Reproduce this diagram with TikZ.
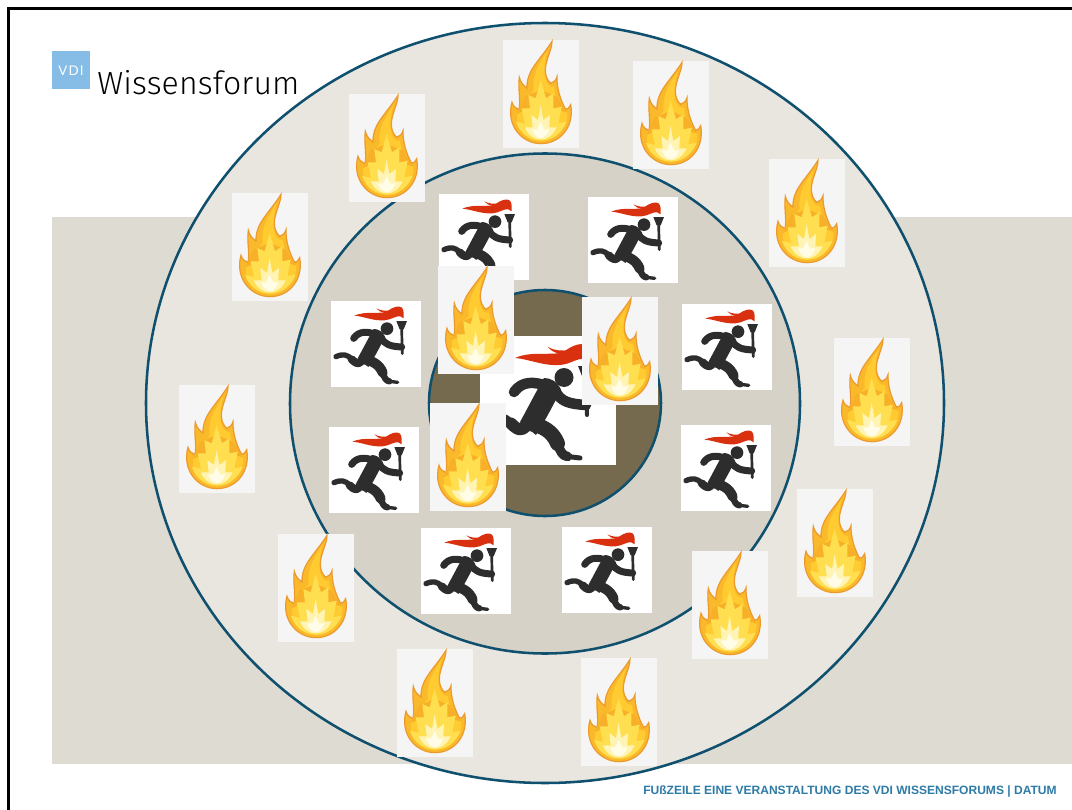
\documentclass[tikz,border=0pt]{standalone}
\usepackage{fontspec}
\setmainfont{Liberation Sans}
\newfontfamily\logofont[LetterSpace=0.5]{Fira Sans Light}
\newfontfamily\vdifont[LetterSpace=8]{Lato}
\definecolor{ringline}{HTML}{10506F}
\definecolor{bandc}{HTML}{DEDBD2}
\definecolor{outerc}{HTML}{E8E6DF}
\definecolor{midc}{HTML}{D6D2C7}
\definecolor{innerc}{HTML}{756A4E}
\definecolor{logoc}{HTML}{85BDE6}
\definecolor{footc}{HTML}{2E7BA6}
\definecolor{figc}{HTML}{2D2D2D}
\definecolor{torchred}{HTML}{D9300F}
\definecolor{flameedge}{HTML}{EC9A2E}
\definecolor{flamea}{HTML}{FAB92A}
\definecolor{flameb}{HTML}{FFCB30}
\definecolor{flamec}{HTML}{FFDE50}
\definecolor{flamed}{HTML}{FFF4B4}
\definecolor{flamee}{HTML}{FFFDE8}
\definecolor{flameo}{HTML}{F7B028}
\tikzset{
  ring/.style={draw=ringline,line width=1.9pt},
  limb/.style={draw=figc,line cap=round,line join=round},
}
\newcommand\flamepath{(147,4) .. controls (147,30) and (127,60) .. (127,91) .. controls (127,108) and (134,122) .. (143,130) .. controls (153,128) and (159,120) .. (162,110) .. controls (161,145) and (173,182) .. (188,208) .. controls (194,208) and (200,203) .. (203,194) .. controls (215,260) and (171,311) .. (114,311) .. controls (56,311) and (8,255) .. (27,187) .. controls (30,198) and (38,206) .. (48,209) .. controls (54,180) and (44,145) .. (49,112) .. controls (52,126) and (62,138) .. (72,144) .. controls (70,90) and (112,60) .. (147,4) -- cycle}
\newcommand\flamebox[2]{%
  \fill[black!4] (#1,#2) rectangle ++(76,108);
  \begin{scope}[shift={(#1,#2)},scale=1/3]
    \fill[flamea,draw=flameedge,line width=0.9pt] \flamepath;
    \fill[flameb] (134,30) .. controls (112,70) and (87,95) .. (92,150) .. controls (82,165) and (72,170) .. (64,170) .. controls (64,195) and (57,215) .. (42,222) .. controls (37,270) and (77,302) .. (114,302) .. controls (156,302) and (196,265) .. (193,218) .. controls (171,205) and (156,175) .. (153,140) .. controls (131,145) and (112,110) .. (134,30) -- cycle;
    \fill[flameo] (64,170) -- (113,150) -- (161,170) -- (193,218) -- (151,205) -- (113,215) -- (76,205) -- (42,222) -- cycle;
    \fill[flamec] (113,120) -- (129,175) -- (151,160) -- (151,205) -- (176,200) -- (166,250) -- (191,245) .. controls (176,282) and (146,302) .. (114,302) .. controls (81,302) and (51,282) .. (39,245) -- (66,252) -- (56,205) -- (81,205) -- (76,165) -- (98,175) -- cycle;
    \fill[flamed] (113,195) -- (121,240) -- (141,225) -- (139,262) -- (161,262) .. controls (149,288) and (131,298) .. (114,298) .. controls (95,298) and (77,288) .. (65,262) -- (89,262) -- (85,225) -- (105,240) -- cycle;
    \fill[flamee] (113,245) -- (123,268) -- (139,268) .. controls (133,286) and (123,294) .. (114,294) .. controls (103,294) and (93,286) .. (87,268) -- (103,268) -- cycle;
  \end{scope}}
\newcommand\runnerfig[5]{% x y w h scale
  \def\rs{#5}%
  \fill[white] (#1,#2) rectangle ++(#3,#4);
  \begin{scope}[shift={(#1,#2)},scale=#5/3]
    \fill[torchred] (70,44) .. controls (105,28) and (150,42) .. (170,30) .. controls (185,18) and (205,12) .. (213,20) .. controls (220,30) and (218,42) .. (218,52) .. controls (205,40) and (195,48) .. (175,55) .. controls (140,66) and (100,46) .. (70,44) -- cycle;
    \fill[torchred] (136,22) .. controls (150,30) and (165,30) .. (180,28) .. controls (170,38) and (148,38) .. (136,22) -- cycle;
    \fill[figc] (168,83) circle (19);
    \fill[figc] (196,60) -- (228,60) -- (218,85) -- (206,85) -- cycle;
    \draw[limb,line width=8*\rs*0.25pt] (212,85) -- (214,158);
    \draw[limb,line width=21*\rs*0.25pt] (135,100) .. controls (110,92) and (85,88) .. (68,112);
    \fill[figc] (128,84) .. controls (140,84) and (155,90) .. (162,108) .. controls (148,135) and (130,170) .. (112,198) -- (80,172) .. controls (95,145) and (110,115) .. (128,84) -- cycle;
    \draw[limb,line width=21*\rs*0.25pt] (150,108) .. controls (160,132) and (180,136) .. (212,138);
    \draw[limb,line width=24*\rs*0.25pt] (92,178) .. controls (85,192) and (75,188) .. (62,175);
    \draw[limb,line width=16*\rs*0.25pt] (62,175) .. controls (50,160) and (35,158) .. (15,167);
    \draw[limb,line width=30*\rs*0.25pt] (100,175) .. controls (125,180) and (145,190) .. (155,215);
    \draw[limb,line width=19*\rs*0.25pt] (155,215) .. controls (160,230) and (165,240) .. (175,241);
    \draw[limb,line width=10*\rs*0.25pt] (175,241) -- (200,244);
  \end{scope}}
\begin{document}
\begin{tikzpicture}[x=0.75pt,y=-0.75pt]
\useasboundingbox (0,0) rectangle (1072,810);
\fill[white] (0,0) rectangle (1072,810);
\fill[bandc] (52,217) rectangle (1072,764);
\draw[ring,fill=outerc] (545,403) ellipse [x radius=399,y radius=380];
\draw[ring,fill=midc] (545,403.5) ellipse [x radius=255,y radius=250];
\draw[ring,fill=innerc] (545,403) ellipse [x radius=116,y radius=113];
\draw[black,line width=2.1pt] (8.7,810) -- (8.7,8.5) -- (1072,8.5);
% logo
\fill[logoc] (52,51) rectangle (90,89);
\node[text=white,font=\vdifont\fontsize{10pt}{12pt}\selectfont,inner sep=0pt] (vdi) at (71,71) {VDI};
\node[anchor=base west,inner sep=0pt,font=\logofont\fontsize{24pt}{26pt}\selectfont] (wf) at (97,94) {Wissensforum};
\node[anchor=base west,inner sep=0pt,text=footc,font=\bfseries\fontsize{9.03pt}{10pt}\selectfont] (foot) at (643,794) {FUßZEILE EINE VERANSTALTUNG DES VDI WISSENSFORUMS | DATUM};
% runners
\runnerfig{480}{336}{136}{129}{1.5}
\runnerfig{439}{194}{90}{86}{1}
\runnerfig{588}{197}{90}{86}{1}
\runnerfig{331}{301}{90}{86}{1}
\runnerfig{682}{304}{90}{86}{1}
\runnerfig{329}{427}{90}{86}{1}
\runnerfig{681}{425}{90}{86}{1}
\runnerfig{421}{528}{90}{86}{1}
\runnerfig{562}{527}{90}{86}{1}
% flames
\flamebox{503}{40}
\flamebox{633}{61}
\flamebox{349}{94}
\flamebox{769}{159}
\flamebox{232}{193}
\flamebox{834}{338}
\flamebox{179}{385}
\flamebox{797}{489}
\flamebox{278}{534}
\flamebox{692}{551}
\flamebox{397}{649}
\flamebox{581}{658}
\flamebox{438}{266}
\flamebox{582}{297}
\flamebox{430}{403}
\end{tikzpicture}
\end{document}
